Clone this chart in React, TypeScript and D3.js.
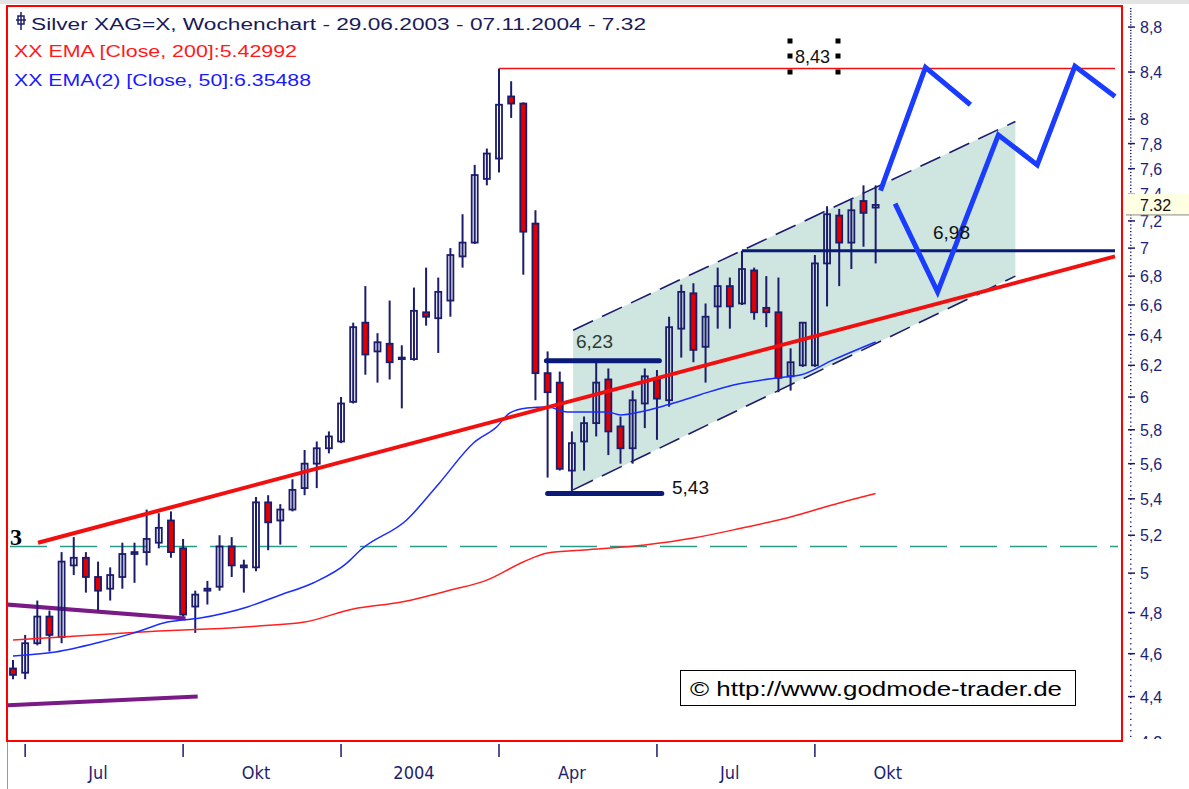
import React from 'react';
import * as d3 from 'd3';

// weekly candles, first week 29.06.2003
const START = new Date(2003, 5, 29);

const opens = [
  4.53, 4.51, 4.65, 4.78, 4.68, 5.04, 5.08, 4.98, 4.92, 4.98,
  5.10, 5.11, 5.16, 5.28, 5.13, 4.83, 4.91, 4.93, 5.14, 5.03,
  5.03, 5.38, 5.28, 5.34, 5.46, 5.60, 5.69, 5.73, 5.97, 6.48,
  6.29, 6.34, 6.24, 6.24, 6.55, 6.51, 6.63, 6.94, 7.04, 7.52,
  7.68, 8.19, 8.13, 7.18, 6.15, 6.09, 5.56, 5.73, 5.84, 6.11,
  5.82, 5.69, 5.96, 6.11, 5.98, 6.44, 6.68, 6.32, 6.59, 6.73,
  6.61, 6.84, 6.58, 6.55, 6.13, 6.20, 6.20, 6.89, 7.24, 7.04,
  7.35, 7.30,
];
const highs = [
  4.57, 4.69, 4.86, 4.81, 5.11, 5.19, 5.11, 5.06, 5.03, 5.16,
  5.16, 5.34, 5.32, 5.33, 5.18, 4.91, 4.96, 5.20, 5.19, 5.07,
  5.41, 5.42, 5.37, 5.51, 5.68, 5.73, 5.79, 6.00, 6.48, 6.73,
  6.41, 6.63, 6.33, 6.72, 6.86, 6.79, 7.00, 7.25, 7.63, 7.76,
  8.43, 8.32, 8.14, 7.28, 6.29, 6.16, 5.79, 5.88, 6.23, 6.18,
  5.88, 6.04, 6.18, 6.17, 6.52, 6.74, 6.75, 6.61, 6.86, 6.79,
  6.98, 6.86, 6.80, 6.79, 6.31, 6.48, 6.95, 7.31, 7.29, 7.36,
  7.47, 7.47,
];
const lows = [
  4.48, 4.48, 4.64, 4.61, 4.65, 4.99, 4.90, 4.81, 4.86, 4.92,
  4.95, 5.04, 5.13, 5.08, 4.78, 4.70, 4.84, 4.91, 4.98, 4.90,
  5.01, 5.12, 5.15, 5.33, 5.42, 5.46, 5.66, 5.72, 5.96, 6.14,
  6.09, 6.11, 5.93, 6.23, 6.46, 6.28, 6.52, 6.86, 7.03, 7.47,
  7.57, 8.01, 6.81, 5.98, 5.52, 5.56, 5.43, 5.56, 5.76, 5.65,
  5.60, 5.60, 5.81, 5.74, 5.94, 6.25, 6.22, 6.09, 6.44, 6.44,
  6.60, 6.50, 6.45, 6.03, 6.04, 6.19, 6.19, 6.59, 6.73, 6.85,
  7.01, 6.89,
];
const closes = [
  4.50, 4.65, 4.78, 4.69, 5.06, 5.08, 4.98, 4.91, 4.99, 5.10,
  5.11, 5.18, 5.24, 5.11, 4.79, 4.89, 4.92, 5.14, 5.04, 5.04,
  5.38, 5.27, 5.34, 5.45, 5.60, 5.69, 5.76, 5.96, 6.45, 6.27,
  6.35, 6.22, 6.25, 6.56, 6.52, 6.69, 6.95, 7.04, 7.55, 7.72,
  8.12, 8.13, 7.12, 6.15, 6.03, 5.57, 5.72, 5.84, 6.09, 5.79,
  5.69, 5.98, 6.13, 5.99, 6.45, 6.69, 6.30, 6.52, 6.73, 6.59,
  6.85, 6.55, 6.55, 6.12, 6.22, 6.48, 6.89, 7.25, 7.04, 7.28,
  7.26, 7.32,
];

// moving averages: [week, value]
const ema200 = [
  [0, 4.665], [4, 4.68], [8, 4.695], [12, 4.709], [16, 4.719], [20, 4.733],
  [24, 4.753], [28, 4.818], [32, 4.853], [36, 4.913], [39, 4.964], [42, 5.058],
  [44, 5.105], [47, 5.121], [52, 5.148], [56, 5.185], [60, 5.239], [64, 5.299],
  [68, 5.377], [71, 5.43],
];
const ema50 = [
  [0, 4.589], [3.5, 4.608], [7.2, 4.656], [9.9, 4.699], [12.7, 4.753], [15.4, 4.773],
  [19.3, 4.828], [22, 4.888], [24.7, 4.949], [27.5, 5.053], [28.6, 5.121], [32.4, 5.283],
  [35.1, 5.489], [37.9, 5.721], [39.8, 5.817], [40.9, 5.902], [42.3, 5.932], [44, 5.938],
  [45.6, 5.908], [48.9, 5.908], [50, 5.89], [51.6, 5.908], [53.8, 5.95], [56.5, 6.013],
  [59.3, 6.075], [62.9, 6.12], [64.8, 6.138], [67.5, 6.235], [71, 6.352],
];

// drawn objects: [week, price]
const trendRed = [[2.06, 5.16], [90.7, 6.94]];
const channelTop = [[46.1, 6.43], [82.5, 7.98]];
const channelBottom = [[46.1, 5.45], [82.5, 6.80]];
const purpleTop = [[-0.5, 4.84], [14.2, 4.77]];
const purpleBottom = [[-0.5, 4.36], [15.2, 4.40]];
const zigA = [[71.4, 7.43], [75.1, 8.44], [78.8, 8.12]];
const zigB = [[72.6, 7.33], [76.1, 6.69], [81.1, 7.87], [84.3, 7.63], [87.4, 8.45], [90.7, 8.19]];
const dashedLevel = 5.14;
const level843 = { v: 8.43, from: 40, to: 90.7 };
const level698 = { v: 6.98, from: 60, to: 90.7 };
const level623 = { v: 6.23, from: 43.9, to: 53.2 };
const level543 = { v: 5.43, from: 44, to: 53.4 };

const axisValues = [8.8, 8.4, 8, 7.8, 7.6, 7.4, 7.2, 7, 6.8, 6.6, 6.4, 6.2, 6, 5.8, 5.6, 5.4, 5.2, 5, 4.8, 4.6, 4.4, 4.2];
const monthNames = ['Jan', 'Feb', 'Mär', 'Apr', 'Mai', 'Jun', 'Jul', 'Aug', 'Sep', 'Okt', 'Nov', 'Dez'];
const lastPrice = 7.32;

const NAVY = '#1c1c6c';
const FONT = '"Liberation Sans", Arial, sans-serif';

export default function App() {
  const x = d3.scaleLinear().domain([0, 90]).range([13, 13 + 90 * 12.15]);
  const y = d3.scaleLog().domain([8.4, 4.4]).range([72, 696.6]);

  const line = d3.line<number[]>().x(d => x(d[0])).y(d => y(d[1]));
  const smooth = d3.line<number[]>().x(d => x(d[0])).y(d => y(d[1])).curve(d3.curveMonotoneX);

  const dates = opens.map((_, i) => d3.timeDay.offset(START, 7 * i));
  const ticks = dates
    .map((d, i) => ({ d, i }))
    .filter(({ d, i }) => i > 0 && d.getMonth() !== dates[i - 1].getMonth() && d.getMonth() % 3 === 0);

  const channel = [...channelTop, ...channelBottom.slice().reverse()];
  const minor = d3.range(4.2, 9.0, 0.025);
  const boxTop = y(lastPrice) - 11;

  return (
    <svg width={1189} height={789} style={{ position: 'absolute', left: 0, top: 0, background: '#fff' }}>
      <rect x={0} y={0} width={1189} height={4} fill="#e4e4e4" />
      <line x1={7.5} y1={741} x2={7.5} y2={789} stroke="#999" />

      <defs>
        <clipPath id="plot"><rect x={8} y={8} width={1113} height={732} /></clipPath>
        <clipPath id="axis"><rect x={1123} y={8} width={66} height={731} /></clipPath>
      </defs>

      <g clipPath="url(#plot)">
        {/* channel */}
        <path d={line(channel) + 'Z'} fill="#cfe5df" />
        <path d={line(channelTop)!} stroke={NAVY} strokeWidth={1.6} strokeDasharray="22 10" fill="none" />
        <path d={line(channelBottom)!} stroke={NAVY} strokeWidth={1.6} strokeDasharray="22 10" fill="none" />

        {/* dashed support */}
        <line x1={10} x2={1118} y1={y(dashedLevel)} y2={y(dashedLevel)} stroke="#2a9a88" strokeWidth={1.6} strokeDasharray="37 13" />

        {/* purple lines */}
        <path d={line(purpleTop)!} stroke="#7a1a86" strokeWidth={4} fill="none" />
        <path d={line(purpleBottom)!} stroke="#7a1a86" strokeWidth={4} fill="none" />

        {/* candles */}
        {opens.map((o, i) => {
          const c = closes[i];
          const top = y(Math.max(o, c));
          const bot = y(Math.min(o, c));
          return (
            <g key={i}>
              <line x1={x(i)} x2={x(i)} y1={y(highs[i])} y2={y(lows[i])} stroke={NAVY} strokeWidth={2} />
              <rect x={x(i) - 3} width={6} y={top} height={Math.max(1, bot - top)}
                fill={c >= o ? 'none' : '#e00000'} stroke={NAVY} strokeWidth={1.8} />
            </g>
          );
        })}

        {/* moving averages */}
        <path d={smooth(ema200)!} stroke="#ff2020" strokeWidth={1.5} fill="none" />
        <path d={smooth(ema50)!} stroke="#1a2cff" strokeWidth={1.5} fill="none" />

        {/* trend line */}
        <path d={line(trendRed)!} stroke="#f01010" strokeWidth={4} fill="none" />

        {/* levels */}
        <line x1={x(level843.from)} x2={x(level843.to)} y1={y(level843.v)} y2={y(level843.v)} stroke="#f01010" strokeWidth={1.5} />
        <line x1={x(level843.from)} x2={x(level843.from)} y1={y(level843.v)} y2={y(highs[40])} stroke="#f01010" strokeWidth={1.5} />
        <line x1={x(level698.from)} x2={x(level698.to)} y1={y(level698.v)} y2={y(level698.v)} stroke="#0a1a78" strokeWidth={3} />
        <line x1={x(level623.from)} x2={x(level623.to)} y1={y(level623.v)} y2={y(level623.v)} stroke="#0a1a78" strokeWidth={5} strokeLinecap="round" />
        <line x1={x(level543.from)} x2={x(level543.to)} y1={y(level543.v)} y2={y(level543.v)} stroke="#0a1a78" strokeWidth={5} strokeLinecap="round" />

        {/* projection */}
        <path d={line(zigA)!} stroke="#1a3cff" strokeWidth={5} fill="none" strokeLinejoin="miter" />
        <path d={line(zigB)!} stroke="#1a3cff" strokeWidth={5} fill="none" strokeLinejoin="miter" />

        {/* labels */}
        <text x={576} y={348} fontFamily={FONT} fontSize={19} fill="#2c3c34">6,23</text>
        <text x={672} y={494} fontFamily={FONT} fontSize={19} fill="#111">5,43</text>
        <text x={933} y={239} fontFamily={FONT} fontSize={19} fill="#111">6,98</text>
        <text x={795} y={63} fontFamily={FONT} fontSize={18} fill="#111">8,43</text>
        {[[790, 41], [838, 41], [790, 72], [838, 72], [790, 56], [838, 56]].map(([a, b], k) => (
          <rect key={k} x={a - 2.5} y={b - 2.5} width={5} height={5} fill="#000" />
        ))}
        <text x={10} y={545} fontFamily='"Liberation Serif", serif' fontWeight="bold" fontSize={24} fill="#000">3</text>

        {/* copyright */}
        <rect x={680.5} y={670.5} width={395} height={35} fill="#fff" stroke="#000" />
        <text x={690} y={696} fontFamily={FONT} fontSize={20} fill="#000" textLength={372} lengthAdjust="spacingAndGlyphs">© http://www.godmode-trader.de</text>

        {/* legend */}
        <g fontFamily={FONT} fontSize={16}>
          <rect x={18} y={16} width={6} height={8} fill="none" stroke={NAVY} strokeWidth={1.5} />
          <line x1={21} x2={21} y1={12} y2={30} stroke={NAVY} strokeWidth={1.5} />
          <line x1={16} x2={26} y1={20} y2={20} stroke={NAVY} strokeWidth={1.5} />
          <text x={31} y={30} fill="#1a1a5a" textLength={615} lengthAdjust="spacingAndGlyphs">Silver XAG=X, Wochenchart - 29.06.2003 - 07.11.2004 - 7.32</text>
          <text x={14} y={57} fill="#ff1a1a" textLength={283} lengthAdjust="spacingAndGlyphs">XX EMA [Close, 200]:5.42992</text>
          <text x={14} y={86} fill="#1a1aff" textLength={297} lengthAdjust="spacingAndGlyphs">XX EMA(2) [Close, 50]:6.35488</text>
        </g>
      </g>

      {/* plot frame */}
      <rect x={7} y={6} width={1115} height={735} fill="none" stroke="#ff0000" strokeWidth={2} />

      {/* price axis; the last-price box sits on top of the labels next to it */}
      <g clipPath="url(#axis)">
        {minor.map((v, k) => (
          <rect key={k} x={1130} y={y(v)} width={1.5} height={1.2} fill={NAVY} />
        ))}
        {axisValues.map(v => (
          <g key={v}>
            <line x1={1128} x2={1135} y1={y(v)} y2={y(v)} stroke={NAVY} strokeWidth={1.5} />
            <text x={1140} y={y(v) + 6} fontFamily={FONT} fontSize={16} fill="#1e1e78">{String(v).replace('.', ',')}</text>
          </g>
        ))}
        <rect x={1126} y={boxTop} width={63} height={21} fill="#ffffe4" />
        <line x1={1126} x2={1189} y1={boxTop + 21} y2={boxTop + 21} stroke="#888" />
        <text x={1140} y={y(lastPrice) + 6} fontFamily={FONT} fontSize={16} fill="#111">{String(lastPrice)}</text>
      </g>

      {/* time axis */}
      {ticks.map(({ d, i }) => (
        <g key={i}>
          <line x1={x(i)} x2={x(i)} y1={744} y2={757} stroke={NAVY} strokeWidth={1.5} />
          <text x={x(i + 6)} y={779} textAnchor="middle" fontFamily='"Liberation Sans Narrow", "DejaVu Sans Condensed", sans-serif' fontSize={18} fill="#1e1e6e">
            {d.getMonth() === 0 ? String(d.getFullYear()) : monthNames[d.getMonth()]}
          </text>
        </g>
      ))}
    </svg>
  );
}
